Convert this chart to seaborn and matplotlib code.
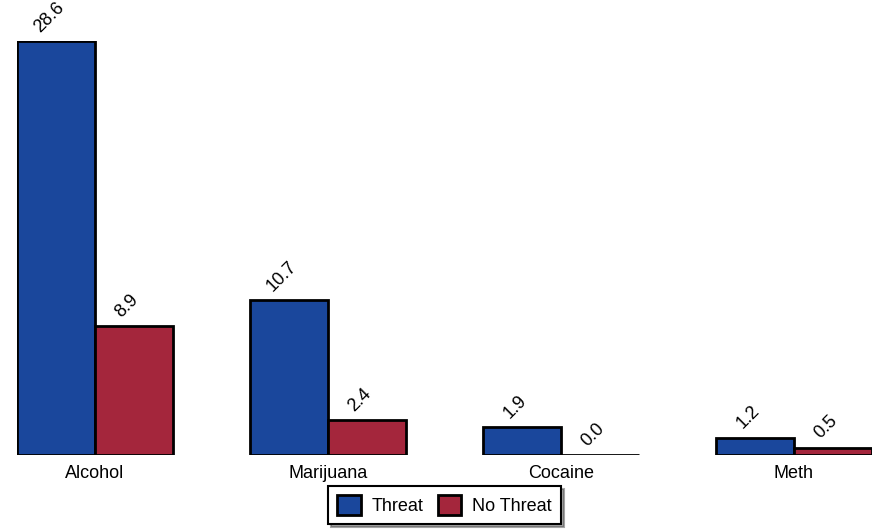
import numpy as np
import pandas as pd
import matplotlib
matplotlib.use("Agg")
import matplotlib.pyplot as plt
import seaborn as sns


# ==========================================
# DATA
# ==========================================

substances = ["Alcohol", "Marijuana", "Cocaine", "Meth"]

threat_values = [28.6, 10.7, 1.9, 1.2]

no_threat_values = [8.9, 2.4, 0.0, 0.5]

groups = ["Threat", "No Threat"]

palette = ["#1a479c", "#a4263c"]


df = pd.DataFrame({
    "substance": substances * 2,
    "value": threat_values + no_threat_values,
    "group": [groups[0]] * 4 + [groups[1]] * 4,
})


# ==========================================
# PLOT
# ==========================================

sns.set_style("white")
plt.rcParams["font.family"] = ["Liberation Sans", "DejaVu Sans"]
plt.rcParams["text.color"] = "black"
plt.rcParams["xtick.color"] = "black"

fig = plt.figure(figsize=(8.78, 5.31), dpi=100)

ax = fig.add_axes([17 / 878, 76 / 531, 855 / 878, 414 / 531])

sns.barplot(
    data=df,
    x="substance",
    y="value",
    hue="group",
    hue_order=groups,
    palette=palette,
    width=0.67,
    gap=0,
    edgecolor="black",
    linewidth=2,
    saturation=1,
    ax=ax,
)

ax.set_xlim(-0.335, 3.335)
ax.set_ylim(0, 28.6)

for container in ax.containers:
    for bar in container:
        h = bar.get_height()
        ax.annotate(
            f"{h:.1f}",
            (bar.get_x() + bar.get_width() / 2, h),
            xytext=(-5, 4),
            textcoords="offset points",
            rotation=45,
            ha="center",
            va="bottom",
            fontsize=13,
            color="black",
            annotation_clip=False,
        )

sns.despine(ax=ax, left=True, right=True, top=True, bottom=True)
ax.set_yticks([])
ax.set_xlabel("")
ax.set_ylabel("")
ax.tick_params(axis="x", length=0, labelsize=13, pad=7, labelcolor="black")

leg = ax.legend(
    loc="upper center",
    bbox_to_anchor=(0.5, -0.075),
    ncol=2,
    frameon=True,
    fancybox=False,
    shadow=True,
    fontsize=13,
    handlelength=1.3,
    handleheight=1.3,
    handletextpad=0.6,
    columnspacing=0.8,
    borderpad=0.5,
    borderaxespad=0,
)
leg.get_frame().set_edgecolor("black")
leg.get_frame().set_linewidth(1.5)
for t in leg.get_texts():
    t.set_color("black")

fig.savefig("out.png", dpi=100)
